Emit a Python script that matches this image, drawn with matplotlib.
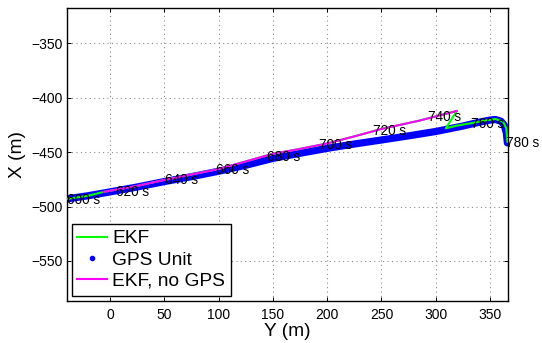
import matplotlib
matplotlib.use("Agg")
import matplotlib.pyplot as plt
from matplotlib.lines import Line2D

plt.rcParams['font.family'] = ['Liberation Sans', 'DejaVu Sans']

# GPS unit track (Y, X) in metres
gps_y = [-40, -20, 0, 25, 50, 75, 100, 125, 150, 175, 200, 225, 250, 275, 300, 310,
         325, 340, 350, 355, 360, 363, 365, 366]
gps_x = [-493, -490, -486.5, -482, -477, -472.5, -467.5, -462, -455.7, -451, -446.5,
         -442.5, -438.8, -435, -431, -429, -426, -422.5, -420.5, -420, -421.5, -425,
         -432, -441.5]

# EKF estimate
ekf_y = [-40, -20, -6, 25, 50, 75, 100, 125, 150, 175, 200, 225, 250, 285, 319.3,
         309.2, 320, 333, 345, 355, 362, 365, 366]
ekf_x = [-493, -490, -486.5, -481, -475.5, -470.5, -465.5, -458.5, -451.5, -447, -442,
         -435.5, -428.7, -421, -412.2, -428.1, -425.5, -423.3, -421, -419.5, -422,
         -428, -440.4]

# EKF without GPS
nogps_y = [-6, 25, 50, 75, 100, 125, 150, 175, 200, 225, 250, 285, 319.3]
nogps_x = [-486.5, -481, -475.5, -470.5, -465.5, -458.5, -451.5, -447, -442, -435.5,
           -428.7, -421, -412.2]

# Time annotations
label_times = [600, 620, 640, 660, 680, 700, 720, 740, 760, 780]
label_y = [-40, 5.6, 51, 97.7, 144.8, 192.1, 241.8, 293.3, 332.3, 364.7]
label_x = [-493.6, -486.8, -475.5, -466.3, -454, -443.2, -430.4, -418.1, -423.7, -441.4]

x_ticks = [0, 50, 100, 150, 200, 250, 300, 350]
y_ticks = [-550, -500, -450, -400, -350]

fig = plt.figure(figsize=(5.42, 3.43), dpi=100)
ax = fig.add_axes([0.1231, 0.1233, 0.9367 - 0.1231, 0.9758 - 0.1233])

ax.plot(gps_y, gps_x, color=(0, 0, 1), lw=5.2, solid_capstyle='round',
        solid_joinstyle='round', zorder=2)
ax.plot(ekf_y, ekf_x, color=(0, 1, 0), lw=1.5, zorder=3)
ax.plot(nogps_y, nogps_x, color=(1, 0, 1), lw=1.5, zorder=4)

for t, yy, xx in zip(label_times, label_y, label_x):
    ax.text(yy, xx, f"{t} s", ha='left', va='center', fontsize=9.8,
            color='black', zorder=5, clip_on=False)

ax.set_xlim(-40, 366.3)
ax.set_ylim(-586.5, -317.8)
ax.set_xticks(x_ticks)
ax.set_yticks(y_ticks)
ax.tick_params(direction='in', length=3, width=0.7, top=True, right=True,
               labelsize=10, pad=3)
ax.tick_params(axis='x', pad=5)
for s in ax.spines.values():
    s.set_linewidth(1.0)
ax.grid(True, linestyle=(0, (1, 3)), color='0.55', lw=0.8)
ax.set_axisbelow(True)

ax.set_xlabel("Y (m)", fontsize=13.8, labelpad=1)
ax.set_ylabel("X (m)", fontsize=13.8, labelpad=4)

handles = [
    Line2D([], [], color=(0, 1, 0), lw=1.5),
    Line2D([], [], color=(0, 0, 1), marker='.', ms=6, ls='none'),
    Line2D([], [], color=(1, 0, 1), lw=1.5),
]
leg = ax.legend(handles, ["EKF", "GPS Unit", "EKF, no GPS"], loc='lower left',
                fontsize=13.8, fancybox=False, framealpha=1, edgecolor='black',
                handlelength=1.55, handletextpad=0.25, labelspacing=0.2,
                borderpad=0.3, borderaxespad=0.26)
leg.get_frame().set_linewidth(1.0)
leg.set_zorder(10)

fig.savefig("out.png", dpi=100)
